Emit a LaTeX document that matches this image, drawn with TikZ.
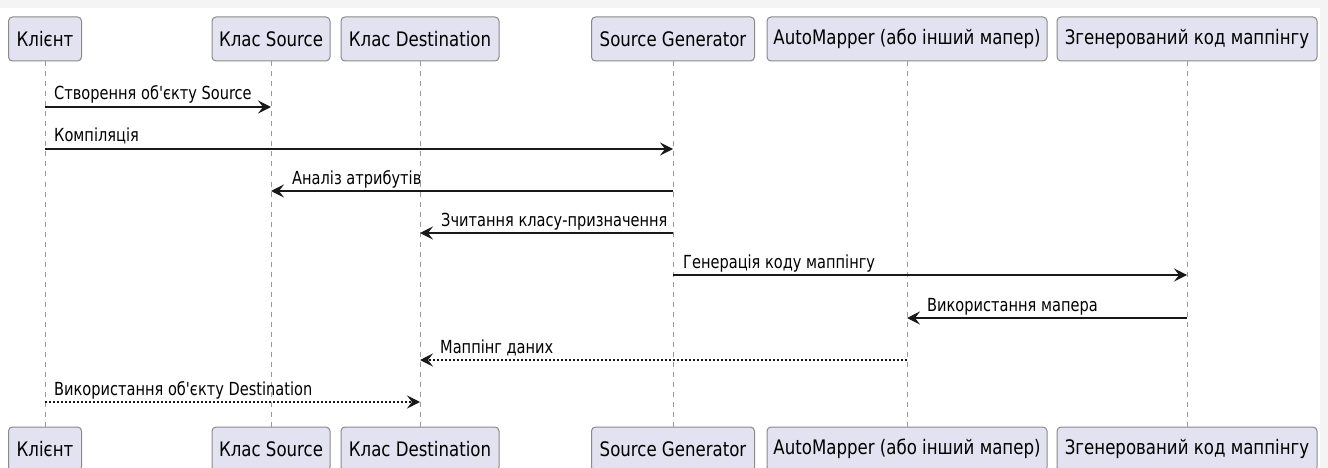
\documentclass[tikz,border=0pt]{standalone}
\usepackage{fontspec}
\newfontfamily\diafont{DejaVu Sans}[FakeStretch=0.83]
\newfontfamily\msgfont{DejaVu Sans}[FakeStretch=0.81]
\usetikzlibrary{arrows.meta}
\definecolor{boxfill}{HTML}{E2E2F0}
\definecolor{boxline}{HTML}{8A8A8A}
\definecolor{lifecol}{HTML}{9A9A9A}
\definecolor{ink}{HTML}{181818}
\definecolor{outer}{HTML}{F4F4F4}
\begin{document}
\begin{tikzpicture}[x=1pt,y=-1pt,
  actor/.style={draw=boxline, fill=boxfill, rounded corners=4pt, line width=1pt,
    minimum height=44pt, inner sep=0pt, text=black,
    font=\diafont\fontsize{20}{24}\selectfont},
  lifeline/.style={draw=lifecol, line width=1pt, dash pattern=on 5pt off 5pt},
  msg/.style={draw=ink, line width=1.4pt, -{Stealth[length=13pt,width=13pt,inset=5pt]}},
  reply/.style={msg, dash pattern=on 2pt off 2pt},
  msglabel/.style={font=\msgfont\fontsize{18}{22}\selectfont, inner sep=0pt,
    anchor=base west, text=black}]

% canvas
\fill[outer] (0,0) rectangle (1328,468);
\fill[white] (0,8) rectangle (1320,468);
\useasboundingbox (0,0) rectangle (1328,468);

% participants, top row
\node[actor, minimum width=73pt]  (cT) at (45,39)   {Клієнт};
\node[actor, minimum width=118pt] (sT) at (271,39)  {Клас Source};
\node[actor, minimum width=158pt] (dT) at (420,39)  {Клас Destination};
\node[actor, minimum width=163pt] (gT) at (673,39)  {Source Generator};
\node[actor, minimum width=280pt] (aT) at (907,39)  {AutoMapper (або інший мапер)};
\node[actor, minimum width=260pt] (mT) at (1187,39) {Згенерований код маппінгу};

% participants, bottom row
\node[actor, minimum width=73pt]  (cB) at (45,449)   {Клієнт};
\node[actor, minimum width=118pt] (sB) at (271,449)  {Клас Source};
\node[actor, minimum width=158pt] (dB) at (420,449)  {Клас Destination};
\node[actor, minimum width=163pt] (gB) at (673,449)  {Source Generator};
\node[actor, minimum width=280pt] (aB) at (907,449)  {AutoMapper (або інший мапер)};
\node[actor, minimum width=260pt] (mB) at (1187,449) {Згенерований код маппінгу};

% lifelines
\foreach \p in {c,s,d,g,a,m}
  \draw[lifeline] (\p T.south) -- (\p B.north);

% message rows
\coordinate (r1) at (0,107);
\coordinate (r2) at (0,149);
\coordinate (r3) at (0,191);
\coordinate (r4) at (0,233);
\coordinate (r5) at (0,275);
\coordinate (r6) at (0,318);
\coordinate (r7) at (0,360);
\coordinate (r8) at (0,402);

% messages
\draw[msg] (cT |- r1) -- (sT |- r1);
\node[msglabel] (l1) at (54,100) {Створення об'єкту Source};

\draw[msg] (cT |- r2) -- (gT |- r2);
\node[msglabel] (l2) at (54,142) {Компіляція};

\draw[msg] (gT |- r3) -- (sT |- r3);
\node[msglabel] (l3) at (292,184) {Аналіз атрибутів};

\draw[msg] (gT |- r4) -- (dT |- r4);
\node[msglabel] (l4) at (441,226) {Зчитання класу-призначення};

\draw[msg] (gT |- r5) -- (mT |- r5);
\node[msglabel] (l5) at (683,268) {Генерація коду маппінгу};

\draw[msg] (mT |- r6) -- (aT |- r6);
\node[msglabel] (l6) at (927,311) {Використання мапера};

\draw[reply] (aT |- r7) -- (dT |- r7);
\node[msglabel] (l7) at (440,353) {Маппінг даних};

\draw[reply] (cT |- r8) -- (dT |- r8);
\node[msglabel] (l8) at (54,395) {Використання об'єкту Destination};
\end{tikzpicture}
\end{document}
